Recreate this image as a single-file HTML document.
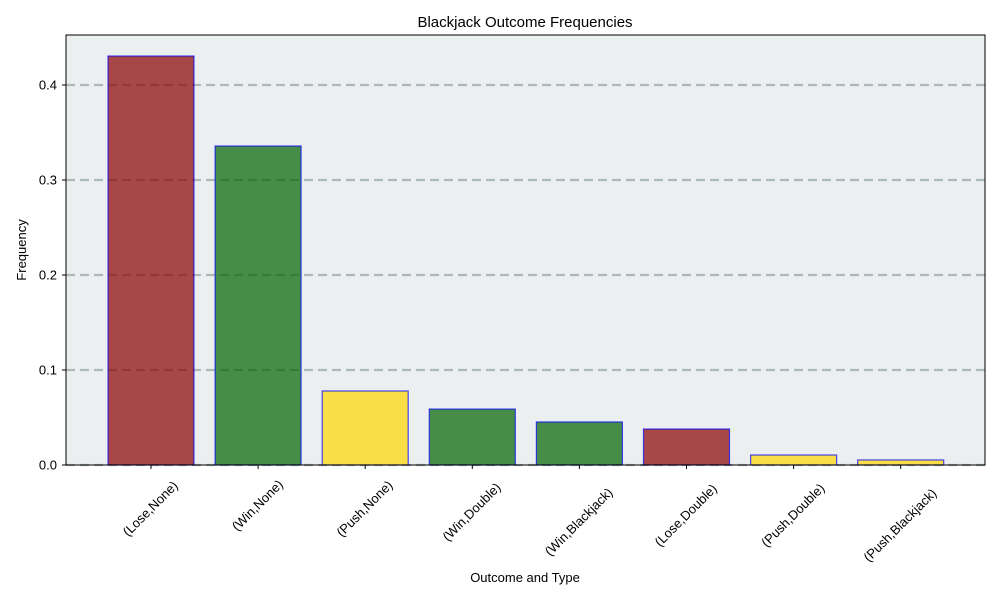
<!DOCTYPE html>
<html><head><meta charset="utf-8"><style>body{margin:0;background:#fff}svg{display:block;font-family:"Liberation Sans","DejaVu Sans",sans-serif}</style></head>
<body>
<svg id="chart" width="1000" height="600" xmlns="http://www.w3.org/2000/svg">
<rect x="66" y="35" width="919" height="430" fill="#ebeff0"/>
<g id="grid"></g><g id="bars"></g><g id="axes"></g>
<rect x="66" y="35" width="919" height="430" fill="none" stroke="#000" stroke-width="1"/>
<text x="525" y="27" text-anchor="middle" font-size="15">Blackjack Outcome Frequencies</text>
<text x="525" y="582" text-anchor="middle" font-size="13">Outcome and Type</text>
<text x="26" y="250" text-anchor="middle" font-size="13" transform="rotate(-90 26 250)">Frequency</text>
</svg>
<script>
const categories=["(Lose,None)","(Win,None)","(Push,None)","(Win,Double)","(Win,Blackjack)","(Lose,Double)","(Push,Double)","(Push,Blackjack)"];
const values=[0.4305,0.3358,0.0779,0.0589,0.0453,0.0379,0.0105,0.0053];
const outcomes=["Lose","Win","Push","Win","Win","Lose","Push","Push"];
const yTicks=[0,0.1,0.2,0.3,0.4];
const yTickLabels=["0.0","0.1","0.2","0.3","0.4"];
const colorMap={Lose:"#8b0000",Win:"#006400",Push:"#ffd700"};
const NS="http://www.w3.org/2000/svg";
const y=v=>465-v*950;
const x=i=>151+i*107.1;
const bw=86;
function mk(t,a,p){const e=document.createElementNS(NS,t);for(const k in a)e.setAttribute(k,a[k]);p.appendChild(e);return e;}
const grid=document.getElementById('grid'),bars=document.getElementById('bars'),axes=document.getElementById('axes');
yTicks.forEach((t,i)=>{
  const l=mk('line',{x1:66,x2:985,y1:y(t),y2:y(t),stroke:'#a6b2b0',"stroke-width":2.2,"stroke-dasharray":"9,5","stroke-opacity":0.9},grid);
  
  
  const tk=mk('line',{x1:62,x2:66,y1:y(t),y2:y(t),stroke:'#000'},axes);
  
  
  const tx=mk('text',{x:57,y:y(t)+4.5,"text-anchor":"end","font-size":13},axes);
  tx.textContent=yTickLabels[i];
  
  
});
categories.forEach((c,i)=>{
  const r=mk('rect',{x:x(i)-bw/2,y:y(values[i]),width:bw,height:values[i]*950,fill:colorMap[outcomes[i]],"fill-opacity":0.7,stroke:'#0000ff',"stroke-opacity":0.7,"stroke-width":1.2},bars);
  
  
  const tk=mk('line',{x1:x(i),x2:x(i),y1:465,y2:469,stroke:'#000'},axes);
  
  
  const cy=473+c.length*3.3;
  const tx=mk('text',{x:x(i),y:cy,"text-anchor":"middle","dominant-baseline":"middle","font-size":13,transform:`rotate(-45 ${x(i)} ${cy})`},axes);
  tx.textContent=c;
  
  
});
</script>
</body></html>
